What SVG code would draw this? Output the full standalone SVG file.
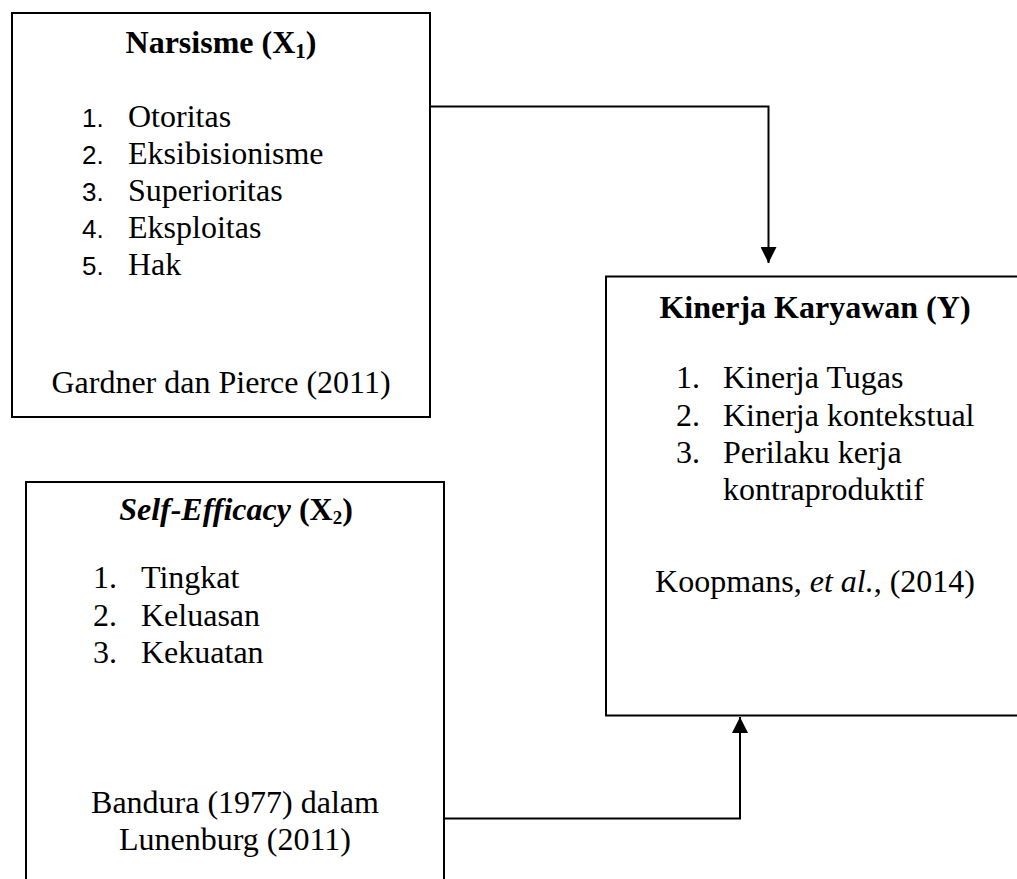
<svg xmlns="http://www.w3.org/2000/svg" width="1017" height="879" viewBox="0 0 1017 879">
<style>
.box{fill:#fff;stroke:#000;stroke-width:2}
.t{font-family:"Liberation Serif","Times New Roman",serif;font-size:32px;fill:#000}
.b{font-weight:bold}
.i{font-style:italic}
.c{text-anchor:middle}
.n{font-family:"Liberation Sans",Arial,sans-serif;font-size:26px;fill:#000}
.conn{fill:none;stroke:#000;stroke-width:2}
</style>
<defs>
<marker id="arr" markerUnits="userSpaceOnUse" markerWidth="16" markerHeight="16" refX="16" refY="8" orient="auto" viewBox="0 0 16 16">
<path d="M0,0 L16,8 L0,16 z" fill="#000"/>
</marker>
</defs>
<rect width="1017" height="879" fill="#fff"/>
<g id="connectors">
<path class="conn" d="M430,106.5 H768.5 V263" marker-end="url(#arr)"/>
<path class="conn" d="M444,818.5 H740 V717" marker-end="url(#arr)"/>
</g>
<g id="narsisme">
<rect class="box" x="12" y="13" width="418" height="404"/>
<text class="t b c" x="221" y="53">Narsisme (X<tspan font-size="21" dy="5">1</tspan><tspan dy="-5">)</tspan></text>
<text class="n" x="82" y="127">1.</text><text class="t" x="128" y="127">Otoritas</text>
<text class="n" x="82" y="164">2.</text><text class="t" x="128" y="164">Eksibisionisme</text>
<text class="n" x="82" y="201">3.</text><text class="t" x="128" y="201">Superioritas</text>
<text class="n" x="82" y="238">4.</text><text class="t" x="128" y="238">Eksploitas</text>
<text class="n" x="82" y="275">5.</text><text class="t" x="128" y="275">Hak</text>
<text class="t c" x="221" y="393">Gardner dan Pierce (2011)</text>
</g>
<g id="kinerja">
<rect class="box" x="606" y="276.5" width="430" height="439"/>
<text class="t b c" x="815" y="318">Kinerja Karyawan (Y)</text>
<text class="t" x="676" y="388">1.</text><text class="t" x="723" y="388">Kinerja Tugas</text>
<text class="t" x="676" y="426">2.</text><text class="t" x="723" y="426">Kinerja kontekstual</text>
<text class="t" x="676" y="463">3.</text><text class="t" x="723" y="463">Perilaku kerja</text>
<text class="t" x="723" y="500">kontraproduktif</text>
<text class="t c" x="815" y="592">Koopmans, <tspan class="i">et al.</tspan>, (2014)</text>
</g>
<g id="self-efficacy">
<rect class="box" x="26" y="482" width="418" height="420"/>
<text class="t b c" x="236" y="520" font-size="29"><tspan class="i">Self-Efficacy</tspan> (X<tspan font-size="19" dy="4">2</tspan><tspan dy="-4">)</tspan></text>
<text class="t" x="93" y="588">1.</text><text class="t" x="141" y="588">Tingkat</text>
<text class="t" x="93" y="626">2.</text><text class="t" x="141" y="626">Keluasan</text>
<text class="t" x="93" y="663">3.</text><text class="t" x="141" y="663">Kekuatan</text>
<text class="t c" x="235" y="813">Bandura (1977) dalam</text>
<text class="t c" x="235" y="850">Lunenburg (2011)</text>
</g>
</svg>
